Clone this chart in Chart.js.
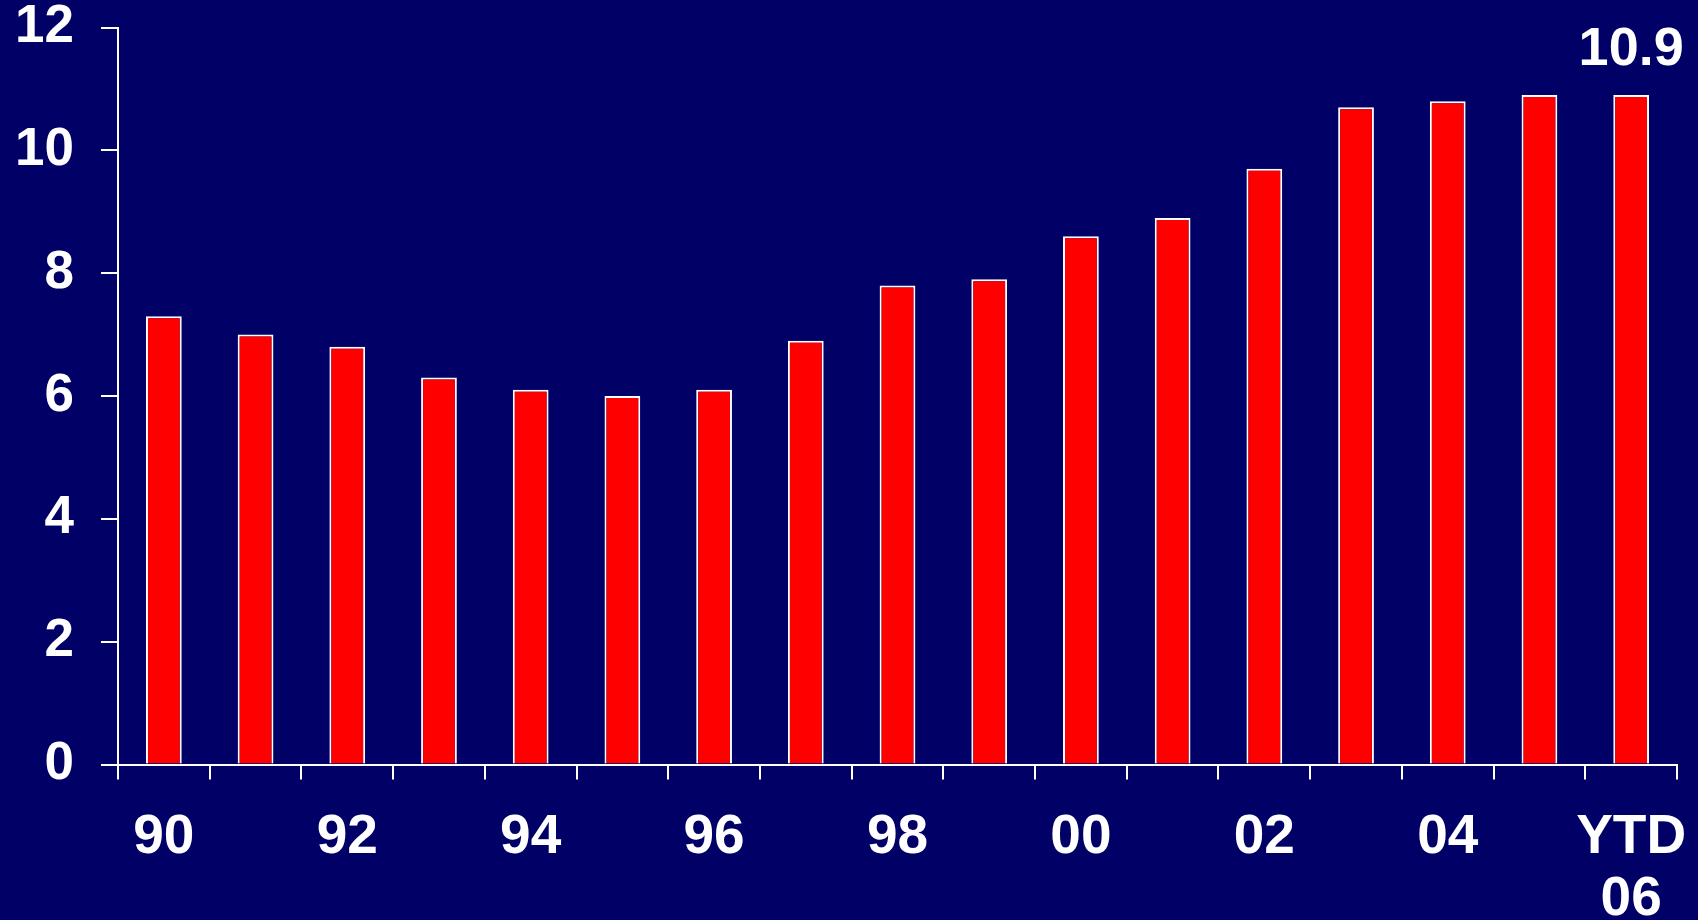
<!DOCTYPE html>
<html>
<head>
<meta charset="utf-8">
<script src="https://cdn.jsdelivr.net/npm/chart.js@4/dist/chart.umd.min.js"></script>
<style>
  html, body { margin: 0; padding: 0; background: #000066; }
  #wrap { width: 1698px; height: 920px; position: relative; }
</style>
</head>
<body>
<div id="wrap"><canvas id="c"></canvas></div>
<script>
// Years on the category axis; the final bar is year-to-date 2006
const years = ['90','91','92','93','94','95','96','97','98','99','00','01','02','03','04','05',['YTD','06']];
// Values per year
const values = [7.3, 7.0, 6.8, 6.3, 6.1, 6.0, 6.1, 6.9, 7.8, 7.9, 8.6, 8.9, 9.7, 10.7, 10.8, 10.9, 10.9];
// Value axis ticks
const yTicks = [0, 2, 4, 6, 8, 10, 12];

const FONT = '"Liberation Sans", Arial, Helvetica, sans-serif';

// Writes the value above the last bar
const lastValueLabel = {
  id: 'lastValueLabel',
  afterDatasetsDraw(chart) {
    const meta = chart.getDatasetMeta(0);
    const i = values.length - 1;
    const bar = meta.data[i];
    const ctx = chart.ctx;
    ctx.save();
    ctx.fillStyle = '#ffffff';
    ctx.font = 'bold 54px ' + FONT;
    ctx.textAlign = 'center';
    ctx.textBaseline = 'alphabetic';
    ctx.fillText(values[i].toFixed(1), bar.x, bar.y - 30);
    ctx.restore();
  }
};

new Chart(document.getElementById('c'), {
  type: 'bar',
  data: {
    labels: years,
    datasets: [{
      data: values,
      backgroundColor: '#ff0000',
      borderColor: '#ffffff',
      borderWidth: 2,
      barPercentage: 0.39,
      categoryPercentage: 1.0
    }]
  },
  options: {
    responsive: true,
    maintainAspectRatio: false,
    animation: false,
    layout: { padding: { top: 27.5, right: 21, left: 0, bottom: 0 } },
    plugins: { legend: { display: false }, tooltip: { enabled: false } },
    scales: {
      x: {
        grid: {
          display: true,
          drawOnChartArea: false,
          drawTicks: true,
          tickLength: 15,
          color: '#ffffff',
          lineWidth: 2,
          offset: true
        },
        border: { display: true, color: '#ffffff', width: 2 },
        ticks: {
          color: '#ffffff',
          font: { family: FONT, size: 55, weight: 'bold', lineHeight: 1.13 },
          padding: 27,
          maxRotation: 0,
          autoSkip: false,
          callback: function (value, index) {
            return index % 2 === 0 ? years[index] : '';
          }
        },
        afterFit(scale) {
          scale.height = 155.5;
          scale.paddingLeft = 0;
          scale.paddingRight = 0;
        }
      },
      y: {
        min: 0,
        max: 12,
        afterBuildTicks(scale) { scale.ticks = yTicks.map(v => ({ value: v })); },
        grid: {
          display: true,
          drawOnChartArea: false,
          drawTicks: true,
          tickLength: 17,
          color: '#ffffff',
          lineWidth: 2
        },
        border: { display: true, color: '#ffffff', width: 2 },
        ticks: {
          color: '#ffffff',
          font: { family: FONT, size: 53, weight: 'bold' },
          padding: 27
        },
        afterFit(scale) {
          scale.width = 118;
          scale.paddingTop = 0;
          scale.paddingBottom = 0;
        }
      }
    }
  },
  plugins: [lastValueLabel]
});
</script>
</body>
</html>
